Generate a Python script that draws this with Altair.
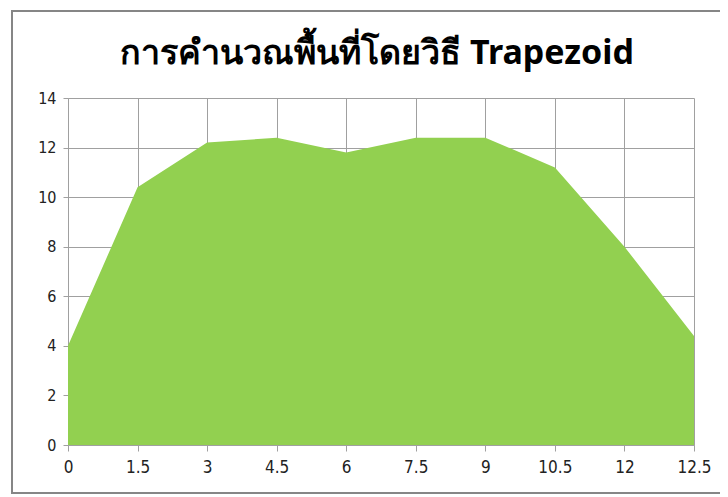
import altair as alt
import pandas as pd

categories = ["0", "1.5", "3", "4.5", "6", "7.5", "9", "10.5", "12", "12.5"]
values = [4.0, 10.4, 12.2, 12.4, 11.8, 12.4, 12.4, 11.2, 8.0, 4.4]
title_text = "การคำนวณพื้นที่โดยวิธี Trapezoid"

df = pd.DataFrame({"x": categories, "y": values})

W, H = 626, 347
GRID = "#a0a0a0"
LABEL_FONT = "DejaVu Sans Condensed"

x_enc = alt.X("x:O", sort=categories, scale=alt.Scale(type="point", padding=0),
              axis=alt.Axis(title=None, labelAngle=0, labelFontSize=17, labelFont=LABEL_FONT,
                            labelColor="#222222", labelPadding=8, tickSize=6, tickColor=GRID,
                            domainColor=GRID, grid=True, gridColor=GRID, labelFlush=False))
y_enc = alt.Y("y:Q", scale=alt.Scale(domain=[0, 14]),
              axis=alt.Axis(title=None, values=list(range(0, 15, 2)), labelFontSize=16,
                            labelFont=LABEL_FONT, labelColor="#222222", labelPadding=7,
                            tickSize=5, tickColor=GRID, domainColor=GRID, grid=True,
                            gridColor=GRID))

area = alt.Chart(df).mark_area(color="#92D050", opacity=1, line=False).encode(x=x_enc, y=y_enc)

frame = alt.Chart(df).mark_rect(fill=None, stroke="#868686", strokeWidth=2, clip=False).encode(
    x=alt.value(-56), x2=alt.value(W + 80), y=alt.value(-87), y2=alt.value(H + 48)
)

title = alt.Chart(pd.DataFrame({"t": [title_text]})).mark_text(
    fontSize=34, font="Noto Sans", fontWeight="bold", color="#000000",
    align="center", baseline="alphabetic", clip=False
).encode(text="t:N", x=alt.value(309), y=alt.value(-34))

chart = alt.layer(area, frame, title).properties(
    width=W, height=H,
    autosize=alt.AutoSizeParams(type="none"),
    padding={"left": 60, "top": 90, "right": 26, "bottom": 50},
).configure_view(stroke=None)

chart.save("out.html", embed_options={"renderer": "svg", "actions": False})
